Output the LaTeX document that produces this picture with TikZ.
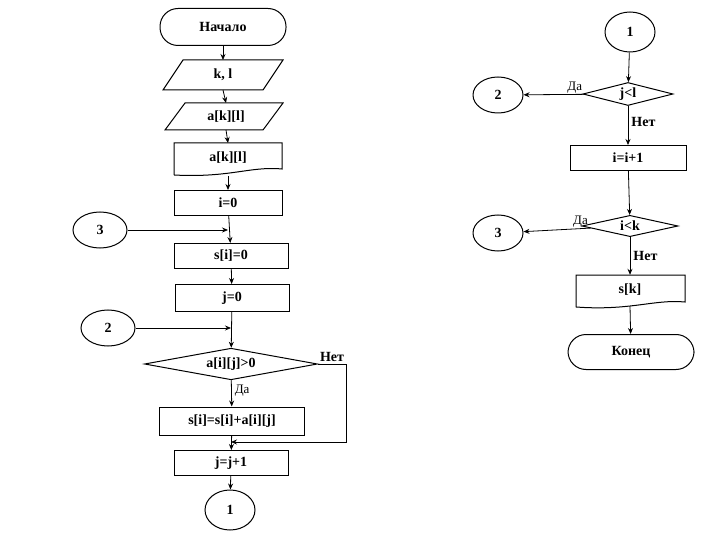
\documentclass[tikz,border=0pt]{standalone}
\usepackage{fontspec}
\setmainfont{Liberation Serif}
\usetikzlibrary{shapes.geometric,calc,arrows.meta}
\begin{document}
\begin{tikzpicture}[x=1pt,y=-1pt,
  font=\fontsize{14}{16}\selectfont\bfseries,
  every node/.style={inner sep=0pt},
  box/.style={draw,line width=1pt,minimum height=#1},
  term/.style={draw,line width=1pt,rounded corners=18pt,minimum width=126pt,minimum height=37pt},
  circ/.style={draw,line width=1pt,ellipse,minimum width=54pt,minimum height=36pt},
  dia/.style={draw,line width=1pt,diamond,aspect=2.6,minimum width=#1},
  ph/.style={minimum width=#1,minimum height=30pt},
  arr/.style={-{Stealth[length=6pt,width=5pt]},line width=0.8pt},
  ln/.style={line width=0.8pt},
  lab/.style={font=\fontsize{13}{15}\selectfont}]
\useasboundingbox (0,0) rectangle (720,540);
% left column
\node[term] (start) at (223,27) {Начало};
\node[ph=100pt] (kl) at (223,75) {k, l};
\draw[line width=1pt] (163,90) -- (183,60) -- (283,60) -- (263,90) -- cycle;
\node[ph=100pt,minimum height=27pt] (akl) at (226,117) {a[k][l]};
\draw[line width=1pt] (165,130) -- (185,103) -- (283,103) -- (263,130) -- cycle;
\node[minimum width=108pt,minimum height=30pt] (dakl) at (228,158) {a[k][l]};
\draw[line width=1pt] (174,175) -- (174,143) -- (282,143) -- (282,169) .. controls (250,166) and (230,178) .. (174,175);
\node[box=25pt,minimum width=108pt] (i0) at (228,203) {i=0};
\node[circ] (c3) at (100,230) {3};
\node[box=25pt,minimum width=114pt] (si0) at (231,256) {s[i]=0};
\node[box=27pt,minimum width=114pt] (j0) at (232,298) {j=0};
\node[circ] (c2) at (108,328) {2};
\node[dia=173pt] (d1) at (231,364) {a[i][j]>0};
\node[box=28pt,minimum width=145pt] (sij) at (232,421) {s[i]=s[i]+a[i][j]};
\node[box=25pt,minimum width=114pt] (jj) at (231,463) {j=j+1};
\node[circ,minimum width=50pt,minimum height=40pt] (c1) at (230,510) {1};
\coordinate (m3) at (228,230);
\coordinate (m2) at (231,328);
\coordinate (mj) at (231,442);
\coordinate (r1) at (346,364);
\coordinate (r2) at (346,442);
\draw[arr] (start) -- (kl.north |- 60,60);
\draw[arr] (kl.south |- 0,90) -- (akl.north |- 0,103);
\draw[arr] (akl.south |- 0,130) -- (dakl.north |- 0,143);
\draw[arr] (dakl.south |- 0,176) -- (i0);
\draw[arr] (i0) -- (si0);
\draw[arr] (c3) -- (m3);
\draw[arr] (si0) -- (j0);
\draw[arr] (j0) -- (d1);
\draw[arr] (c2) -- (m2);
\draw[arr] (d1) -- (sij) node[lab,pos=0.4,right=3pt] {Да};
\draw[ln] (d1.east) -- (r1) node[pos=0.5,above=2pt] {Нет};
\draw[arr] (r1) -- (r2) -- (mj);
\draw[arr] (sij) -- (jj);
\draw[arr] (jj) -- (c1);
% right column
\node[circ,minimum width=50pt,minimum height=40pt] (r_c1) at (630,32) {1};
\node[dia=90pt,aspect=1.6] (d2) at (628,94) {j<l};
\node[circ,minimum width=50pt] (r_c2) at (498,95) {2};
\node[box=25pt,minimum width=116pt] (ii) at (628,158) {i=i+1};
\node[dia=96pt,aspect=1.7] (d3) at (630,226) {i<k};
\node[circ,minimum width=50pt] (r_c3) at (498,233) {3};
\node[minimum width=109pt,minimum height=30pt] (sk) at (630,290) {s[k]};
\draw[line width=1pt] (576,307) -- (576,275) -- (685,275) -- (685,302) .. controls (655,299) and (630,311) .. (576,307);
\node[term,minimum width=126pt,minimum height=35pt] (end) at (631,352) {Конец};
\draw[arr] (r_c1) -- (d2);
\draw[arr] (d2) -- (r_c2) node[lab,pos=0.15,above=1pt] {Да};
\draw[arr] (d2) -- (ii) node[pos=0.4,right=3pt] {Нет};
\draw[arr] (ii) -- (d3);
\draw[arr] (d3) -- (r_c3) node[lab,pos=0.15,above=1pt] {Да};
\draw[arr] (d3) -- (sk.north) node[pos=0.5,right=3pt] {Нет};
\draw[arr] (sk.south |- 0,306) -- (end);
\end{tikzpicture}
\end{document}
